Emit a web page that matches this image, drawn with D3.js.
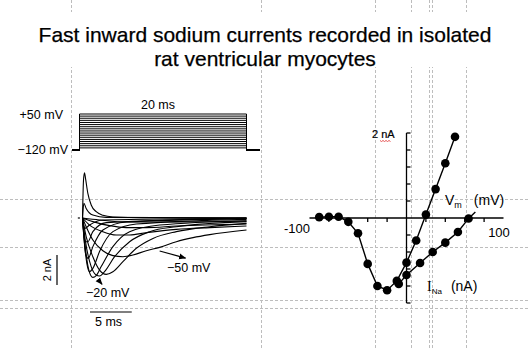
<!DOCTYPE html>
<html><head><meta charset="utf-8">
<script src="https://cdn.jsdelivr.net/npm/d3@7"></script>
<style>
body{margin:0;background:#fff}
svg{display:block}
text{font-family:Arial,"Liberation Sans",Helvetica,sans-serif;fill:#000}
</style>
</head><body><svg id="c" width="529" height="350"></svg>
<script>
// ---------------- data ----------------
const titleLines = ["Fast inward sodium currents recorded in isolated", "rat ventricular myocytes"];

// voltage-clamp protocol (mV, ms)
const holdingPotential = -120;
const stepLevels = [-110,-100,-90,-80,-70,-60,-50,-40,-30,-20,-10,0,10,20,30,40,50];
const stepDuration = 20;
const preStep = -0.85, postStep = 21.55;
const protocolLabels = ["+50 mV", "\u2212120 mV", "20 ms"];

// current traces: [time ms, current nA]
const traceNames = ["-80","-70","-60","-50","-40","-30","-20","-10","0","+10","+20","+40","+50"];
const traces = [
  [[0.36,0],[2.4,-0.13],[5.6,-0.27],[9.6,-0.27],[20,-0.2]],
  [[0.36,0],[1.6,-0.24],[3.6,-0.51],[5.6,-0.64],[8.0,-0.64],[11.6,-0.53],[20,-0.4]],
  [[0.36,0],[1.2,-0.47],[2.8,-0.91],[4.4,-1.13],[6.0,-1.13],[8.0,-0.98],[11.6,-0.76],[15.6,-0.64],[20,-0.53]],
  [[0.36,0],[0.8,-0.58],[1.6,-1.47],[2.8,-2.18],[4.0,-2.51],[5.2,-2.58],[6.4,-2.47],[8.0,-2.18],[9.6,-1.96],[11.6,-1.58],[13.6,-1.31],[15.6,-1.11],[20,-0.8]],
  [[0.36,0],[0.8,-1.24],[1.6,-2.58],[2.4,-3.47],[3.2,-3.76],[4.0,-3.58],[5.2,-2.91],[6.8,-2.02],[8.8,-1.36],[11.6,-0.91],[15.6,-0.58],[20,-0.36]],
  [[0.36,0],[0.72,-1.58],[1.4,-3.24],[2.0,-3.8],[2.4,-3.87],[3.0,-3.58],[4.2,-2.58],[6.0,-1.58],[8.4,-0.91],[11.6,-0.58],[20,-0.24]],
  [[0.36,0],[0.64,-1.69],[1.12,-3.47],[1.6,-3.96],[2.0,-3.84],[2.6,-3.24],[4.0,-1.91],[6.0,-0.91],[9.6,-0.47],[20,-0.18]],
  [[0.36,0],[0.56,-1.47],[0.88,-3.02],[1.2,-3.58],[1.6,-3.36],[2.4,-2.24],[4.0,-0.91],[6.8,-0.4],[20,-0.09]],
  [[0.36,0],[0.52,-1.24],[0.76,-2.47],[1.04,-2.69],[1.6,-1.91],[2.8,-0.8],[5.6,-0.27],[20,-0.04]],
  [[0.36,0],[0.48,-0.8],[0.68,-1.58],[1.0,-1.58],[1.6,-0.91],[3.2,-0.31],[20,-0.02]],
  [[0.36,0],[0.48,-0.47],[0.64,-0.69],[1.2,-0.47],[2.8,-0.13],[20,-0.02]],
  [[0.36,0],[0.52,0.98],[0.8,0.64],[1.6,0.2],[3.2,0.04],[20,0]],
  [[0.36,0],[0.48,2.53],[0.6,3.02],[0.72,2.64],[1.0,1.64],[1.4,0.87],[2.0,0.42],[2.8,0.18],[4.0,0.07],[7.6,0.02],[20,0.02]]
];
const traceLabels = ["\u221250 mV", "\u221220 mV"];
const arrow50 = [[9.6,-2.2],[12.7,-2.67]];
const arrow20 = [[2.2,-4.09],[2.7,-4.42]];
const scaleBarCurrent = 2;   // nA
const scaleBarTime = 5;      // ms

// I-V relation
const ivVoltage1 = [-90,-80,-70,-60,-50,-40,-30,-20,-10,0,10,20,30,40,50];
const ivCurrent1 = [0.02,0.03,0.03,-0.09,-0.36,-1.08,-1.60,-1.70,-1.48,-1.05,-0.53,0.08,0.68,1.29,1.91];
const ivVoltage2 = [-8,0,14,27,40,53,64];
const ivCurrent2 = [-1.55,-1.34,-1.06,-0.80,-0.58,-0.33,-0.01];
const ivLine2End = [71,0.14];
const ivXTicks = [-80,-60,-40,-20,20,40,60,80];
const ivYTicks = [-2,-1.6,-1.2,-0.8,-0.4,0.4,0.8,1.2,1.6,2];
const ivXLabels = ["-100","100"];

// ---------------- layout ----------------
const W = 529, H = 350;
const gridXs = [71,261,375,411,429,432,466];
const gridYs = [199,247,300,308];

const svg = d3.select("#c");
svg.append("rect").attr("width",W).attr("height",H).attr("fill","#fff");

const grid = svg.append("g").attr("stroke","#bdbdbd").attr("stroke-width",1).attr("stroke-dasharray","3,2");
grid.selectAll("line.v").data(gridXs).join("line").attr("class","v")
  .attr("x1",d=>d+0.5).attr("x2",d=>d+0.5).attr("y1",0).attr("y2",H);
grid.selectAll("line.h").data(gridYs).join("line").attr("class","h")
  .attr("x1",0).attr("x2",W).attr("y1",d=>d+0.5).attr("y2",d=>d+0.5);

// title with white backdrop
svg.append("rect").attr("x",0).attr("y",12).attr("width",W).attr("height",55).attr("fill","#fff");
svg.selectAll("text.title").data(titleLines).join("text").attr("class","title")
  .attr("x",265).attr("y",(d,i)=>42+i*24).attr("text-anchor","middle")
  .attr("font-size",21).attr("stroke","#000").attr("stroke-width",0.25).text(d=>d);

// ---- left: protocol ----
const tScale = d3.scaleLinear().domain([0,20]).range([79.5,246.5]);
const vScale = d3.scaleLinear().domain([-120,50]).range([150,114]);
const proto = svg.append("g").attr("fill","none").attr("stroke","#000").attr("stroke-width",1);
stepLevels.forEach(v=>{
  const p = d3.path();
  p.moveTo(tScale(preStep), vScale(holdingPotential));
  p.lineTo(tScale(0), vScale(holdingPotential));
  p.lineTo(tScale(0), vScale(v));
  p.lineTo(tScale(stepDuration), vScale(v));
  p.lineTo(tScale(stepDuration), vScale(holdingPotential));
  p.lineTo(tScale(postStep), vScale(holdingPotential));
  proto.append("path").attr("d",p.toString());
});
svg.append("text").attr("x",63).attr("y",119).attr("text-anchor","end").attr("font-size",12.5).text(protocolLabels[0]);
svg.append("text").attr("x",68).attr("y",154).attr("text-anchor","end").attr("font-size",12.5).text(protocolLabels[1]);
svg.append("text").attr("x",tScale(stepDuration/2)-5).attr("y",109).attr("text-anchor","middle").attr("font-size",12.5).text(protocolLabels[2]);

// ---- left: current traces ----
const iScale = d3.scaleLinear().domain([-4,3]).range([278,173]);
const line = d3.line().x(d=>tScale(d[0])).y(d=>iScale(d[1])).curve(d3.curveMonotoneX);
svg.append("g").attr("fill","none").attr("stroke","#000").attr("stroke-width",1.1)
  .selectAll("path").data(traces).join("path").attr("d",line);
// zero marker
svg.append("line").attr("x1",tScale(-0.2)).attr("x2",tScale(0.05)).attr("y1",iScale(0)).attr("y2",iScale(0)).attr("stroke","#000").attr("stroke-width",1.2);

// arrows
const defs = svg.append("defs");
defs.append("marker").attr("id","ah").attr("viewBox","0 0 10 10").attr("refX",9).attr("refY",5)
  .attr("markerWidth",6).attr("markerHeight",6).attr("orient","auto")
  .append("path").attr("d","M0,1 L10,5 L0,9 Z").attr("fill","#000");
[arrow50, arrow20].forEach(a=>{
  svg.append("line").attr("x1",tScale(a[0][0])).attr("y1",iScale(a[0][1]))
    .attr("x2",tScale(a[1][0])).attr("y2",iScale(a[1][1]))
    .attr("stroke","#000").attr("stroke-width",1.2).attr("marker-end","url(#ah)");
});
svg.append("text").attr("x",167).attr("y",272).attr("font-size",12.5).text(traceLabels[0]);
svg.append("text").attr("x",86).attr("y",297).attr("font-size",12.5).text(traceLabels[1]);

// scale bars
const sbX = 57, sbY = 255;
svg.append("line").attr("x1",sbX).attr("x2",sbX).attr("y1",sbY)
  .attr("y2",sbY + (iScale(0)-iScale(scaleBarCurrent))).attr("stroke","#000").attr("stroke-width",1.2);
svg.append("text").attr("transform",`translate(${sbX-6},${sbY+15}) rotate(-90)`)
  .attr("text-anchor","middle").attr("font-size",11).text(scaleBarCurrent+" nA");
const tbX = 90, tbY = 312;
svg.append("line").attr("x1",tbX).attr("x2",tbX + tScale(scaleBarTime)-tScale(0))
  .attr("y1",tbY).attr("y2",tbY).attr("stroke","#000").attr("stroke-width",1.2);
svg.append("text").attr("x",95).attr("y",326).attr("font-size",12.5).text(scaleBarTime+" ms");

// ---- right: I-V ----
const xIV = d3.scaleLinear().domain([-100,100]).range([309.5,503.5]);
const yIV = d3.scaleLinear().domain([-2,2]).range([303,133]);
const ax = svg.append("g").attr("stroke","#000").attr("stroke-width",1.3);
ax.append("line").attr("x1",xIV(-100)).attr("x2",xIV(100)).attr("y1",yIV(0)).attr("y2",yIV(0));
ax.append("line").attr("x1",xIV(0)).attr("x2",xIV(0)).attr("y1",yIV(-2)).attr("y2",yIV(2));
ax.selectAll("line.xt").data(ivXTicks).join("line").attr("class","xt")
  .attr("x1",d=>xIV(d)).attr("x2",d=>xIV(d)).attr("y1",yIV(0)).attr("y2",yIV(0)+4);
ax.selectAll("line.yt").data(ivYTicks).join("line").attr("class","yt")
  .attr("x1",xIV(0)).attr("x2",xIV(0)+4).attr("y1",d=>yIV(d)).attr("y2",d=>yIV(d));

const ivLine = d3.line().x(d=>xIV(d[0])).y(d=>yIV(d[1]));
const pts1 = ivVoltage1.map((v,i)=>[v,ivCurrent1[i]]);
const pts2 = ivVoltage2.map((v,i)=>[v,ivCurrent2[i]]);
svg.append("path").attr("d",ivLine(pts1)).attr("fill","none").attr("stroke","#000").attr("stroke-width",1.4);
svg.append("path").attr("d",ivLine(pts2.concat([ivLine2End]))).attr("fill","none").attr("stroke","#000").attr("stroke-width",1.4);
svg.append("g").selectAll("circle").data(pts1.concat(pts2)).join("circle")
  .attr("cx",d=>xIV(d[0])).attr("cy",d=>yIV(d[1])).attr("r",4.3).attr("fill","#000");

svg.append("text").attr("x",297).attr("y",233).attr("text-anchor","middle").attr("font-size",13).text(ivXLabels[0]);
svg.append("text").attr("x",499).attr("y",237).attr("text-anchor","middle").attr("font-size",13).text(ivXLabels[1]);

// 2 nA label
svg.append("text").attr("x",372).attr("y",138).attr("font-size",11).attr("stroke","#000").attr("stroke-width",0.2).text("2 nA");
svg.append("path").attr("d","M380,140.5 l1.5,1 l1.5,-1 l1.5,1 l1.5,-1 l1.5,1 l1.5,-1 l1.5,1")
  .attr("fill","none").attr("stroke","#e03030").attr("stroke-width",0.8);

// axis titles
const vm = svg.append("text").attr("x",445).attr("y",205).attr("font-size",14);
vm.append("tspan").text("V");
vm.append("tspan").attr("font-size",9).attr("dy",3).text("m");
vm.append("tspan").attr("dy",-3).attr("dx",12).text("(mV)");
const ina = svg.append("text").attr("x",427).attr("y",291).attr("font-size",14);
ina.append("tspan").attr("font-family","'Liberation Serif','Times New Roman',serif").text("I");
ina.append("tspan").attr("font-size",8).attr("dy",3).text("Na");
ina.append("tspan").attr("dy",-3).attr("dx",9).text("(nA)");
</script>
</body></html>
